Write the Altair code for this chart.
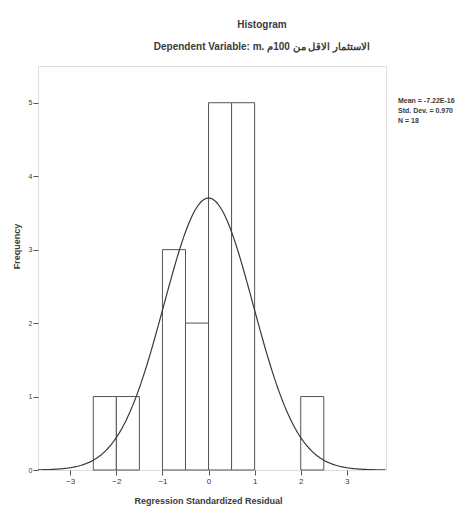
import altair as alt
import pandas as pd

# ---- data ----
bin_start = [-2.5, -2.0, -1.0, -0.5, 0.0, 0.5, 2.0]
bin_end = [-2.0, -1.5, -0.5, 0.0, 0.5, 1.0, 2.5]
counts = [1, 1, 3, 2, 5, 5, 1]
x_ticks = [-3, -2, -1, 0, 1, 2, 3]
y_ticks = [0, 1, 2, 3, 4, 5]
mean_val = 0.0
sd_val = 0.970
n_val = 18
bin_width = 0.5
stats_lines = "Mean = -7.22E-16\nStd. Dev. = 0.970\nN = 18"

hist = pd.DataFrame({"start": bin_start, "end": bin_end, "count": counts})

FONT = "Liberation Sans"
INK = "#3a3a3a"

xscale = alt.Scale(domain=[-3.7, 3.85], nice=False, zero=False)
yscale = alt.Scale(domain=[0, 5.5], nice=False)

x_axis = alt.Axis(
    values=x_ticks, format="d", grid=False, domain=False, tickSize=5, tickColor="#555",
    labelFontSize=8, labelColor=INK, labelFont=FONT, labelPadding=2,
    title="Regression Standardized Residual", titleFontSize=9,
    titleFont=FONT, titleColor=INK, titleFontWeight="bold",
    titleX=170, titleY=30, titleBaseline="middle",
)
y_axis = alt.Axis(
    values=y_ticks, format="d", grid=False, domain=False, tickSize=5, tickColor="#555",
    labelFontSize=7, labelColor=INK, labelFont=FONT, labelPadding=1,
    title="Frequency", titleFontSize=9, titleFont=FONT, titleColor=INK,
    titleFontWeight="bold", titleX=-22, titleY=180, titleBaseline="middle",
)

bars = alt.Chart(hist).mark_rect(fill="white", stroke="#555", strokeWidth=1).encode(
    x=alt.X("start:Q", scale=xscale, axis=x_axis),
    x2="end:Q",
    y=alt.Y("count:Q", scale=yscale, axis=y_axis),
    y2=alt.datum(0),
)

curve = (
    alt.Chart(alt.sequence(-3.7, 3.86, 0.02, as_="x"))
    .transform_calculate(
        f=f"{n_val * bin_width}*exp(-0.5*pow((datum.x-{mean_val})/{sd_val},2))/({sd_val}*sqrt(2*PI))"
    )
    .mark_line(color="#3a3a3a", strokeWidth=1.2, clip=True)
    .encode(x=alt.X("x:Q", scale=xscale), y=alt.Y("f:Q", scale=yscale))
)

stats = alt.Chart(hist).transform_filter("datum.start == -2.5").mark_text(
    align="left", baseline="middle", fontSize=7, font=FONT, color=INK,
    lineBreak="\n", lineHeight=10, fontWeight="bold",
).encode(x=alt.value(360), y=alt.value(35), text=alt.value(stats_lines))

chart = (
    alt.layer(bars, curve, stats)
    .properties(
        width=348,
        height=404,
        autosize=alt.AutoSizeParams(type="none"),
        padding={"left": 30, "top": 58, "right": 75, "bottom": 40},
        title=alt.TitleParams(
            text="Histogram",
            subtitle="Dependent Variable: m. الاستثمار الاقل من 100م",
            anchor="middle", dx=50, offset=14,
            fontSize=10, font=FONT, color=INK, fontWeight="bold",
            subtitleFontSize=10, subtitleFont=FONT, subtitleColor=INK,
            subtitleFontWeight="bold", subtitlePadding=12,
        ),
    )
    .configure_view(stroke="#666", strokeWidth=1.2)
    .configure(background="white")
)

chart.save("out.html", embed_options={"renderer": "svg", "actions": False})
